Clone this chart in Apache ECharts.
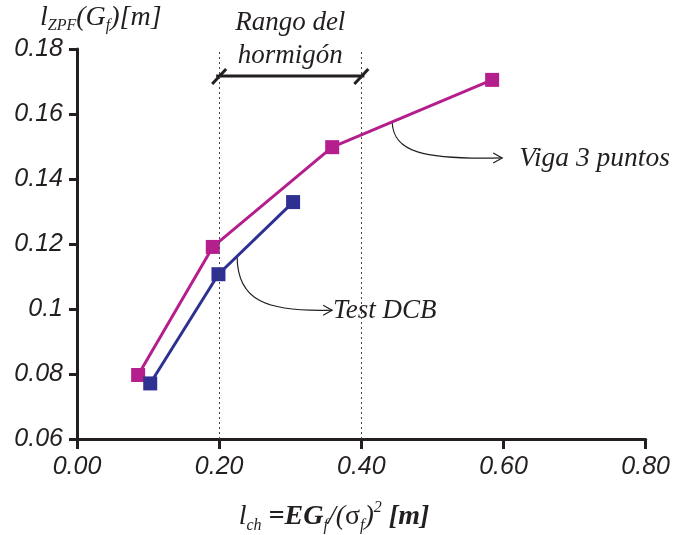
<!DOCTYPE html>
<html>
<head>
<meta charset="utf-8">
<script src="https://cdn.jsdelivr.net/npm/echarts@6/dist/echarts.min.js"></script>
<style>
html,body{margin:0;padding:0;background:#fff}
#c{width:673px;height:535px}
</style>
</head>
<body>
<div id="c"></div>
<script>
// Tick labels
const xTickLabels = ['0.00', '0.20', '0.40', '0.60', '0.80'];
const yTickLabels = ['0.06', '0.08', '0.1', '0.12', '0.14', '0.16', '0.18'];

// Three-point bending beam (Viga 3 puntos)
const vigaX = [0.086, 0.191, 0.359, 0.584];
const vigaY = [0.0797, 0.1191, 0.1498, 0.1705];

// DCB test
const dcbX = [0.103, 0.199, 0.304];
const dcbY = [0.0771, 0.1107, 0.1329];

// Range of l_ch for concrete
const concreteRange = [0.2, 0.4];

const INK = '#231F20';
const MAGENTA = '#B51F8D';
const NAVY = '#2E3192';

const chart = echarts.init(document.getElementById('c'), null, { renderer: 'canvas' });

const zip = (xs, ys) => xs.map((x, i) => [x, ys[i]]);

chart.setOption({
  animation: false,
  backgroundColor: '#fff',
  grid: { left: 77, right: 24, top: 49, bottom: 96 },
  xAxis: {
    type: 'value', min: 0, max: 0.8, interval: 0.2,
    axisLine: { show: true, lineStyle: { color: INK, width: 3 } },
    axisTick: { show: true, length: 10, lineStyle: { color: INK, width: 3 } },
    splitLine: { show: false },
    axisLabel: {
      margin: 16,
      fontSize: 25, fontStyle: 'italic', fontFamily: 'Liberation Sans', color: INK,
      formatter: v => xTickLabels[Math.round(v / 0.2)]
    }
  },
  yAxis: {
    type: 'value', min: 0.06, max: 0.18, interval: 0.02,
    axisLine: { show: true, lineStyle: { color: INK, width: 3 } },
    axisTick: { show: true, length: 8, lineStyle: { color: INK, width: 3 } },
    splitLine: { show: false },
    axisLabel: {
      margin: 14,
      fontSize: 25, fontStyle: 'italic', fontFamily: 'Liberation Sans', color: INK,
      formatter: v => yTickLabels[Math.round((v - 0.06) / 0.02)]
    }
  },
  series: [
    {
      name: 'Viga 3 puntos',
      type: 'line',
      data: zip(vigaX, vigaY),
      symbol: 'rect', symbolSize: 14,
      lineStyle: { color: MAGENTA, width: 3 },
      itemStyle: { color: MAGENTA },
      z: 3,
      markLine: {
        silent: true,
        symbol: 'none',
        label: { show: false },
        lineStyle: { color: '#444', width: 1, type: [2, 3] },
        data: concreteRange.map(v => ({ xAxis: v }))
      }
    },
    {
      name: 'Test DCB',
      type: 'line',
      data: zip(dcbX, dcbY),
      symbol: 'rect', symbolSize: 14,
      lineStyle: { color: NAVY, width: 3 },
      itemStyle: { color: NAVY },
      z: 4
    }
  ]
});

// ---- annotations ----
const px = (x, y) => chart.convertToPixel({ gridIndex: 0 }, [x, y]);
const along = (xs, ys, i, t) => px(xs[i] + (xs[i + 1] - xs[i]) * t, ys[i] + (ys[i + 1] - ys[i]) * t);

const serif = '"Liberation Serif", "Times New Roman", serif';
const g = [];

// curved leader with an open arrowhead and its label
function leader(start, tip, c1, c2, text, gap, size) {
  g.push({
    type: 'bezierCurve',
    shape: { x1: start[0], y1: start[1], cpx1: c1[0], cpy1: c1[1], cpx2: c2[0], cpy2: c2[1], x2: tip[0], y2: tip[1] },
    style: { stroke: INK, lineWidth: 1.2, fill: null }
  });
  g.push({
    type: 'polyline',
    shape: { points: [[tip[0] - 9, tip[1] - 5], tip, [tip[0] - 9, tip[1] + 5]] },
    style: { stroke: INK, lineWidth: 1.2, fill: null }
  });
  g.push({
    type: 'text',
    style: {
      text: text, x: tip[0] + gap, y: tip[1] + 1,
      font: 'italic ' + size + 'px ' + serif, fill: INK,
      align: 'left', verticalAlign: 'middle'
    }
  });
}

const sDcb = along(dcbX, dcbY, 1, 0.25);
leader(sDcb, [sDcb[0] + 95, sDcb[1] + 54],
  [sDcb[0], sDcb[1] + 45], [sDcb[0] + 30, sDcb[1] + 56], 'Test DCB', 1, 27);

const sViga = along(vigaX, vigaY, 2, 0.375);
leader(sViga, [sViga[0] + 110, sViga[1] + 36],
  [sViga[0] + 1, sViga[1] + 30], [sViga[0] + 30, sViga[1] + 38], 'Viga 3 puntos', 17, 27.5);

// dimension line marking the concrete range
const a = px(concreteRange[0], 0.18);
const b = px(concreteRange[1], 0.18);
const dimY = 76;
g.push({
  type: 'line',
  shape: { x1: a[0] - 3, y1: dimY, x2: b[0] + 3, y2: dimY },
  style: { stroke: INK, lineWidth: 3 }
});
[a[0], b[0]].forEach(x => g.push({
  type: 'line',
  shape: { x1: x - 7, y1: dimY + 8, x2: x + 7, y2: dimY - 7 },
  style: { stroke: INK, lineWidth: 3 }
}));
const mid = (a[0] + b[0]) / 2;
g.push({
  type: 'text',
  style: { text: 'Rango del', x: mid, y: 23, font: 'italic 27px ' + serif, fill: INK, align: 'center', verticalAlign: 'middle' }
});
g.push({
  type: 'text',
  style: { text: 'hormigón', x: mid, y: 56, font: 'italic 27px ' + serif, fill: INK, align: 'center', verticalAlign: 'middle' }
});

// y-axis title: l_ZPF(G_f)[m]
g.push({
  type: 'text',
  style: {
    x: 40, y: 2,
    text: '{i|l}{s|ZPF}{i|(G}{s|f}{i|)[m]}',
    fill: INK,
    rich: {
      i: { font: 'italic 28px ' + serif, lineHeight: 32, verticalAlign: 'middle' },
      s: { font: 'italic 16px ' + serif, lineHeight: 15, verticalAlign: 'bottom' }
    }
  }
});

// x-axis title: l_ch = EG_f/(σ_f)^2 [m]
g.push({
  type: 'text',
  style: {
    x: 334, y: 500,
    align: 'center',
    text: '{i|l}{s|ch}{b| =EG}{s|f}{i|/(}{r|σ}{s|f}{i|)}{p|2}{b| [m]}',
    fill: INK,
    rich: {
      i: { font: 'italic 28px ' + serif, lineHeight: 34 },
      b: { font: 'italic bold 28px ' + serif, lineHeight: 34 },
      r: { font: '28px ' + serif, lineHeight: 34 },
      s: { font: 'italic 16px ' + serif, lineHeight: 15, verticalAlign: 'bottom' },
      p: { font: 'italic 16px ' + serif, lineHeight: 15, verticalAlign: 'top' }
    }
  }
});

chart.setOption({ graphic: g });
</script>
</body>
</html>
